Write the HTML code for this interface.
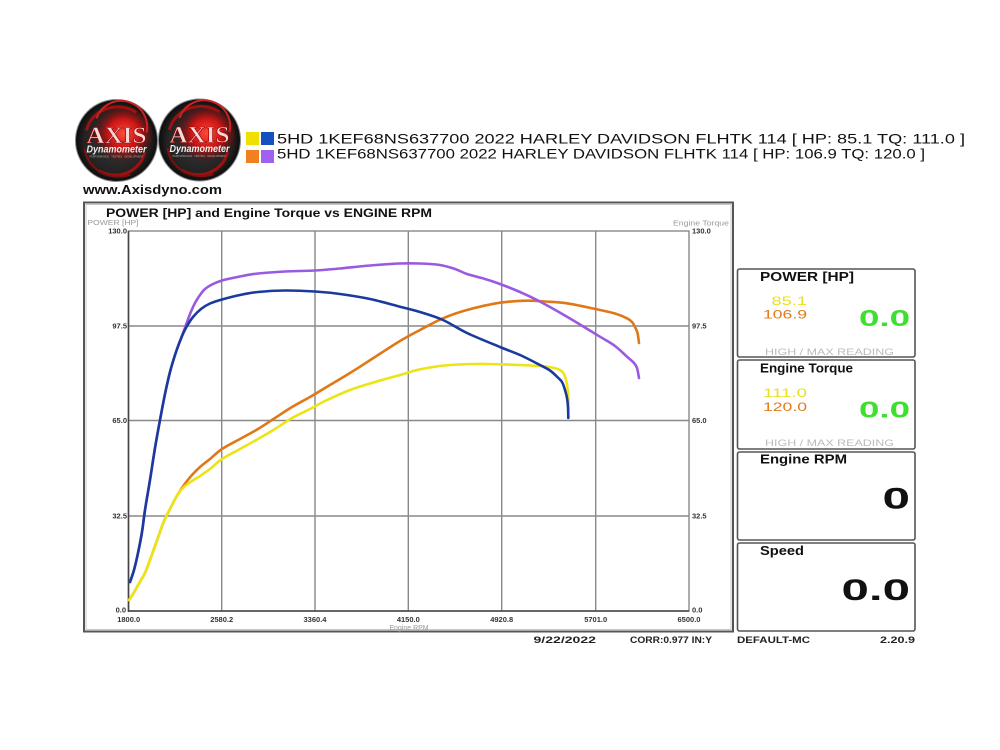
<!DOCTYPE html>
<html><head><meta charset="utf-8"><style>
html,body{margin:0;padding:0;background:#fff;}
svg{display:block;}
text{font-family:"Liberation Sans",sans-serif;}
text.serif{font-family:"Liberation Serif",serif;}
</style></head><body>
<svg id="s" width="1000" height="750" viewBox="0 0 1000 750" xmlns="http://www.w3.org/2000/svg">
<defs>
<radialGradient id="lg" cx="50%" cy="50%" r="50%">
<stop offset="0" stop-color="#3a3a3a"/><stop offset="0.8" stop-color="#222"/><stop offset="1" stop-color="#0c0c0c"/>
</radialGradient>
<radialGradient id="rg" cx="55%" cy="45%" r="50%">
<stop offset="0" stop-color="#ff4a3a"/><stop offset="0.5" stop-color="#c81414"/><stop offset="1" stop-color="#5a0606" stop-opacity="0"/>
</radialGradient>
<g id="logo">
<circle cx="0" cy="0" r="41" fill="url(#lg)" stroke="#888" stroke-width="1"/>
<ellipse cx="4" cy="-4" rx="32" ry="30" fill="url(#rg)"/>
<path d="M-30,-10 A32,30 0 0 1 20,-28" stroke="#a01010" stroke-width="3" fill="none"/>
<path d="M28,12 A30,28 0 0 1 -18,30" stroke="#a01010" stroke-width="3" fill="none"/>
<path d="M-20,-22 A26,26 0 0 1 30,-8" stroke="#d02020" stroke-width="2" fill="none"/>
<path d="M-32,8 A34,32 0 0 0 14,34" stroke="#801010" stroke-width="2" fill="none"/>
<text class="serif" x="0" y="2.5" text-anchor="middle" font-size="23" font-weight="bold" fill="#f4dada" stroke="#a00000" stroke-width="0.6" textLength="60" lengthAdjust="spacingAndGlyphs">AXIS</text>
<text x="0" y="12" text-anchor="middle" font-size="10" font-weight="bold" font-style="italic" fill="#f0f0f0" textLength="60" lengthAdjust="spacingAndGlyphs">Dynamometer</text>
<text x="0" y="17" text-anchor="middle" font-size="3" fill="#aaa" textLength="54" lengthAdjust="spacingAndGlyphs">PERFORMANCE · TESTING · DEVELOPMENT</text>
</g>
</defs>

<!-- Header -->
<use href="#logo" x="116.5" y="140.5"/>
<use href="#logo" x="199.5" y="140"/>
<rect x="246" y="132" width="13" height="13" fill="#f0e000"/>
<rect x="261" y="132" width="13" height="13" fill="#1450c0"/>
<rect x="246" y="150" width="13" height="13" fill="#f08020"/>
<rect x="261" y="150" width="13" height="13" fill="#a060f0"/>
<text x="277" y="143.5" font-size="14" fill="#111" textLength="688" lengthAdjust="spacingAndGlyphs">5HD 1KEF68NS637700 2022 HARLEY DAVIDSON FLHTK  114 [ HP: 85.1 TQ: 111.0 ]</text>
<text x="277" y="158.5" font-size="14" fill="#111" textLength="648" lengthAdjust="spacingAndGlyphs">5HD 1KEF68NS637700 2022 HARLEY DAVIDSON FLHTK  114 [ HP: 106.9 TQ: 120.0 ]</text>
<text x="83" y="194" font-size="13" font-weight="bold" fill="#111" textLength="139" lengthAdjust="spacingAndGlyphs">www.Axisdyno.com</text>

<!-- Chart frame -->
<rect x="84" y="202.5" width="649" height="429" fill="#fff" stroke="#555" stroke-width="2"/>
<rect x="86" y="204.5" width="645" height="425" fill="none" stroke="#bbb" stroke-width="0.8"/>
<text x="106" y="217" font-size="12" font-weight="bold" fill="#111" textLength="326" lengthAdjust="spacingAndGlyphs">POWER [HP] and Engine Torque vs ENGINE RPM</text>
<text x="87.5" y="225" font-size="7" fill="#999" textLength="51" lengthAdjust="spacingAndGlyphs">POWER [HP]</text>
<text x="729" y="225.5" font-size="7" fill="#999" text-anchor="end" textLength="56" lengthAdjust="spacingAndGlyphs">Engine Torque</text>

<!-- Grid -->
<g stroke="#888" stroke-width="1.4" fill="none">
<line x1="221.7" y1="231" x2="221.7" y2="611"/>
<line x1="315" y1="231" x2="315" y2="611"/>
<line x1="408.3" y1="231" x2="408.3" y2="611"/>
<line x1="501.7" y1="231" x2="501.7" y2="611"/>
<line x1="595.7" y1="231" x2="595.7" y2="611"/>
<line x1="128.5" y1="326" x2="689" y2="326"/>
<line x1="128.5" y1="420.5" x2="689" y2="420.5"/>
<line x1="128.5" y1="516" x2="689" y2="516"/>
<rect x="128.5" y="231" width="560.5" height="380"/>
</g>
<line x1="128.5" y1="231" x2="128.5" y2="612" stroke="#444" stroke-width="1.6"/>
<line x1="128" y1="611" x2="689" y2="611" stroke="#444" stroke-width="1.6"/>

<!-- Axis labels -->
<g font-size="7.5" font-weight="bold" fill="#333">
<text x="127" y="233.5" text-anchor="end">130.0</text>
<text x="127" y="328.5" text-anchor="end">97.5</text>
<text x="127" y="423" text-anchor="end">65.0</text>
<text x="127" y="518.5" text-anchor="end">32.5</text>
<text x="126" y="612.5" text-anchor="end">0.0</text>
<text x="692" y="233.5">130.0</text>
<text x="692" y="328.5">97.5</text>
<text x="692" y="423">65.0</text>
<text x="692" y="518.5">32.5</text>
<text x="692" y="612.5">0.0</text>
<text x="128.7" y="622" text-anchor="middle">1800.0</text>
<text x="221.7" y="622" text-anchor="middle">2580.2</text>
<text x="315" y="622" text-anchor="middle">3360.4</text>
<text x="408.3" y="622" text-anchor="middle">4150.0</text>
<text x="501.7" y="622" text-anchor="middle">4920.8</text>
<text x="595.7" y="622" text-anchor="middle">5701.0</text>
<text x="689" y="622" text-anchor="middle">6500.0</text>
</g>
<text x="409" y="630" font-size="7" fill="#999" text-anchor="middle">Engine RPM</text>

<!-- Curves -->
<g id="curves" fill="none" stroke-width="2.6" stroke-linejoin="round" stroke-linecap="round">
<polyline stroke="#e07818" points="129,600 133,594 137,587 141,580 145,573 150,560 155,546 160,532 164,521 168,513 173,503 178,494 184,485 192,475 200,467 210,459 222,449 240,439 258,429 275,418 292,407 310,397 325,388 350,373 375,357 400,341 420,330 443,318.3 467,310 500,302.7 527,300.7 545,301.5 567,303.3 600,310 615,313.5 627,318.3 632,322 635,327 637.5,333 639,343"/>
<polyline stroke="#9a5ae0" points="130,582 134,570 138,553 142,532 145,510 150,480 155,448 160,420 165,394 170,372 176,352 182,336 186,325 190,314 195,303 200,295 205,289 212,284.5 222,280.5 240,276.5 258,273.5 285,271.5 315,270.5 340,268.5 370,265.5 400,263.5 420,263.5 440,265 455,269 467,274 485,279 500,284 520,292 537,300 567,316.7 600,336.7 615,346 627,356.7 634,363 637,368 639,378"/>
<polyline stroke="#ece414" points="129,600 133,594 137,587 141,580 145,573 150,560 155,546 160,532 164,521 168,513 173,503 178,494 184,487 192,481 200,476 210,469 222,459 240,449 258,439 275,429 292,418 310,409 325,401 350,390 375,382 400,375 417,370 433,367 450,365 475,364 500,364.3 520,365 540,366 552,367.5 560,370 564,374 566,380 567.5,388 568.3,397 568.3,410"/>
<polyline stroke="#1a3a9e" points="130,582 134,570 138,553 142,532 145,510 150,480 155,448 160,420 165,394 170,372 176,352 182,336 187,326 193,317 201,309 210,303.5 222,299.5 240,295 258,292 285,290.5 315,291.5 340,294 370,299 400,306.7 420,312 443,320 467,333 500,347 520,355 540,365 550,370.5 557,376.7 562,382 565,390 567,398 568,407 568.3,418"/>
</g>

<!-- Right panels -->
<g fill="#fff" stroke="#555" stroke-width="1.6">
<rect x="737.5" y="269" width="177.5" height="88" rx="2"/>
<rect x="737.5" y="360" width="177.5" height="89" rx="2"/>
<rect x="737.5" y="452" width="177.5" height="88" rx="2"/>
<rect x="737.5" y="543" width="177.5" height="88" rx="2"/>
</g>
<g font-weight="bold" fill="#111" font-size="13">
<text x="760" y="281" textLength="94" lengthAdjust="spacingAndGlyphs">POWER [HP]</text>
<text x="760" y="372.5" textLength="93" lengthAdjust="spacingAndGlyphs">Engine Torque</text>
<text x="760" y="463.5" textLength="87" lengthAdjust="spacingAndGlyphs">Engine RPM</text>
<text x="760" y="555" textLength="44" lengthAdjust="spacingAndGlyphs">Speed</text>
</g>
<g font-size="12">
<text x="771.5" y="305" fill="#e8e020" textLength="35.5" lengthAdjust="spacingAndGlyphs">85.1</text>
<text x="763" y="318.5" fill="#e07a18" textLength="44" lengthAdjust="spacingAndGlyphs">106.9</text>
<text x="763" y="397" fill="#e8e020" textLength="44" lengthAdjust="spacingAndGlyphs">111.0</text>
<text x="763" y="411" fill="#e07a18" textLength="44" lengthAdjust="spacingAndGlyphs">120.0</text>
</g>
<text x="859" y="326" font-size="23" font-weight="bold" fill="#3ee030" textLength="51" lengthAdjust="spacingAndGlyphs">0.0</text>
<text x="859" y="417.5" font-size="23" font-weight="bold" fill="#3ee030" textLength="51" lengthAdjust="spacingAndGlyphs">0.0</text>
<text x="765" y="355" font-size="9.5" fill="#bbb" textLength="129" lengthAdjust="spacingAndGlyphs">HIGH / MAX READING</text>
<text x="765" y="446" font-size="9.5" fill="#bbb" textLength="129" lengthAdjust="spacingAndGlyphs">HIGH / MAX READING</text>
<text x="882.5" y="508.5" font-size="30" font-weight="bold" fill="#111" textLength="27.5" lengthAdjust="spacingAndGlyphs">0</text>
<text x="841.5" y="600" font-size="30" font-weight="bold" fill="#111" textLength="68.5" lengthAdjust="spacingAndGlyphs">0.0</text>

<!-- Footer -->
<g font-size="9" font-weight="bold" fill="#222">
<text x="533.5" y="643" textLength="62.5" lengthAdjust="spacingAndGlyphs">9/22/2022</text>
<text x="630" y="643" textLength="82" lengthAdjust="spacingAndGlyphs">CORR:0.977 IN:Y</text>
<text x="737" y="643" textLength="73" lengthAdjust="spacingAndGlyphs">DEFAULT-MC</text>
<text x="880" y="643" textLength="35" lengthAdjust="spacingAndGlyphs">2.20.9</text>
</g>
</svg>
<script>
(function(){
  var ns="http://www.w3.org/2000/svg";
  var pls=document.querySelectorAll("#curves polyline");
  for(var i=0;i<pls.length;i++){
    var pl=pls[i];
    var raw=pl.getAttribute("points").trim().split(/\s+/).map(function(s){var a=s.split(",");return [parseFloat(a[0]),parseFloat(a[1])];});
    var d="M"+raw[0][0]+","+raw[0][1];
    for(var k=0;k<raw.length-1;k++){
      var p0=raw[k>0?k-1:k],p1=raw[k],p2=raw[k+1],p3=raw[k+2<raw.length?k+2:k+1];
      var c1x=p1[0]+(p2[0]-p0[0])/6,c1y=p1[1]+(p2[1]-p0[1])/6;
      var c2x=p2[0]-(p3[0]-p1[0])/6,c2y=p2[1]-(p3[1]-p1[1])/6;
      d+=" C"+c1x.toFixed(2)+","+c1y.toFixed(2)+" "+c2x.toFixed(2)+","+c2y.toFixed(2)+" "+p2[0]+","+p2[1];
    }
    var p=document.createElementNS(ns,"path");
    p.setAttribute("d",d);
    p.setAttribute("stroke",pl.getAttribute("stroke"));
    pl.parentNode.replaceChild(p,pl);
  }
})();
</script>
</body></html>
